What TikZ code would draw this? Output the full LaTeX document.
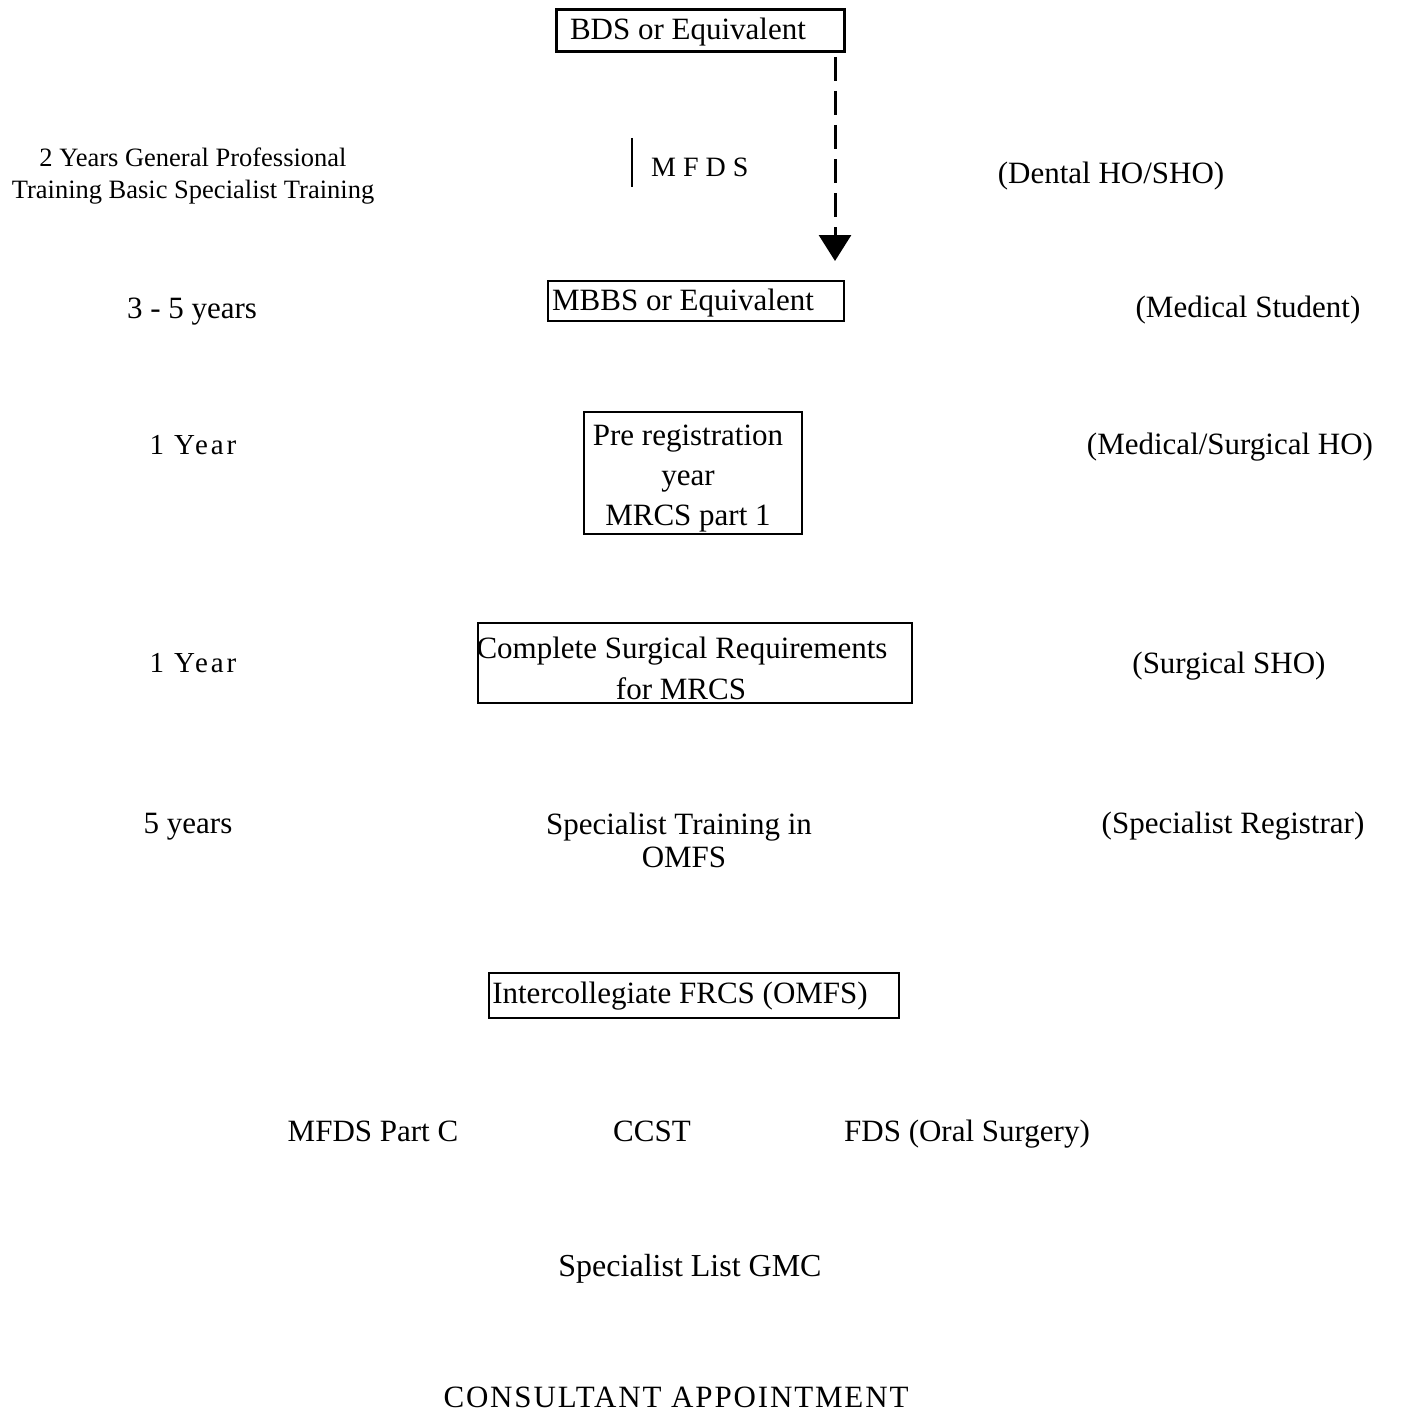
\documentclass[tikz,border=0pt]{standalone}
\usepackage{fontspec}
\setmainfont{Liberation Serif}
\newfontfamily\spacedfont[LetterSpace=25]{Liberation Serif}
\newfontfamily\yearfont[LetterSpace=10]{Liberation Serif}
\newfontfamily\consfont[LetterSpace=6]{Liberation Serif}
\usetikzlibrary{arrows.meta}
\tikzset{
  txt/.style={inner sep=0pt, anchor=base, font=\fontsize{31}{40}\selectfont, align=center},
  small/.style={inner sep=0pt, anchor=base, font=\fontsize{26.5}{32}\selectfont, align=center},
  box/.style={draw, line width=1.5pt, inner sep=0pt, anchor=north west},
  thickbox/.style={draw, line width=3pt, inner sep=0pt, anchor=north west},
  dasharrow/.style={line width=3pt, dash pattern=on 24pt off 10pt, -{Triangle[width=32pt,length=26pt]}}
}
\begin{document}
\begin{tikzpicture}[x=1pt,y=-1pt]
\useasboundingbox (0,0) rectangle (1400,1418);
% boxes
\node[thickbox, minimum width=288pt, minimum height=42pt] (bds) at (555,8) {};
\node[box, minimum width=296pt, minimum height=40pt] (mbbs) at (547,280) {};
\node[box, minimum width=218pt, minimum height=122pt] (pre) at (583,411) {};
\node[box, minimum width=434pt, minimum height=80pt] (comp) at (477,622) {};
\node[box, minimum width=410pt, minimum height=45pt] (inter) at (488,972) {};
% box texts
\node[txt] (bdst) at (688,40) {BDS or Equivalent};
\node[txt] (mbbst) at (683,310) {MBBS or Equivalent};
\node[txt] (pret1) at (688,445) {Pre registration};
\node[txt] (pret2) at (688,485) {year};
\node[txt] (pret3) at (688,525) {MRCS part 1};
\node[txt] (compt1) at (682,658) {Complete Surgical Requirements};
\node[txt] (compt2) at (681,699) {for MRCS};
\node[txt] (intert) at (680,1003) {Intercollegiate FRCS (OMFS)};
% dashed arrow
\coordinate (astart) at (835,57);
\coordinate (tip) at (835,261);
\draw[dasharrow] (astart) -- (tip);
% MFDS
\coordinate (bar1) at (632,138);
\coordinate (bar2) at (632,187);
\draw[line width=2pt] (bar1) -- (bar2);
\node[inner sep=0pt, anchor=base west, font=\fontsize{28}{34}\spacedfont] (mfds) at (651,176) {MFDS};
% left column
\node[small] (gpt1) at (193,166) {2 Years General Professional};
\node[small] (gpt2) at (193,198) {Training Basic Specialist Training};
\node[txt] (y35) at (192,318) {3 - 5 years};
\node[txt, font=\fontsize{29}{36}\yearfont] (y1a) at (193,454) {1 Year};
\node[txt, font=\fontsize{29}{36}\yearfont] (y1b) at (193,672) {1 Year};
\node[txt] (y5) at (188,833) {5 years};
% right column
\node[txt] (dental) at (1111,183) {(Dental HO/SHO)};
\node[txt] (medst) at (1248,317) {(Medical Student)};
\node[txt] (medho) at (1230,454) {(Medical/Surgical HO)};
\node[txt] (sho) at (1229,673) {(Surgical SHO)};
\node[txt] (reg) at (1233,833) {(Specialist Registrar)};
% middle free texts
\node[txt] (spec1) at (679,834) {Specialist Training in};
\node[txt] (spec2) at (684,867) {OMFS};
\node[txt] (mfdsc) at (373,1141) {MFDS Part C};
\node[txt] (ccst) at (652,1141) {CCST};
\node[txt] (fds) at (967,1141) {FDS (Oral Surgery)};
\node[txt, font=\fontsize{32}{40}\selectfont] (gmc) at (690,1276) {Specialist List GMC};
\node[txt, font=\fontsize{31}{40}\consfont] (cons) at (676,1407) {CONSULTANT APPOINTMENT};
\end{tikzpicture}
\end{document}
